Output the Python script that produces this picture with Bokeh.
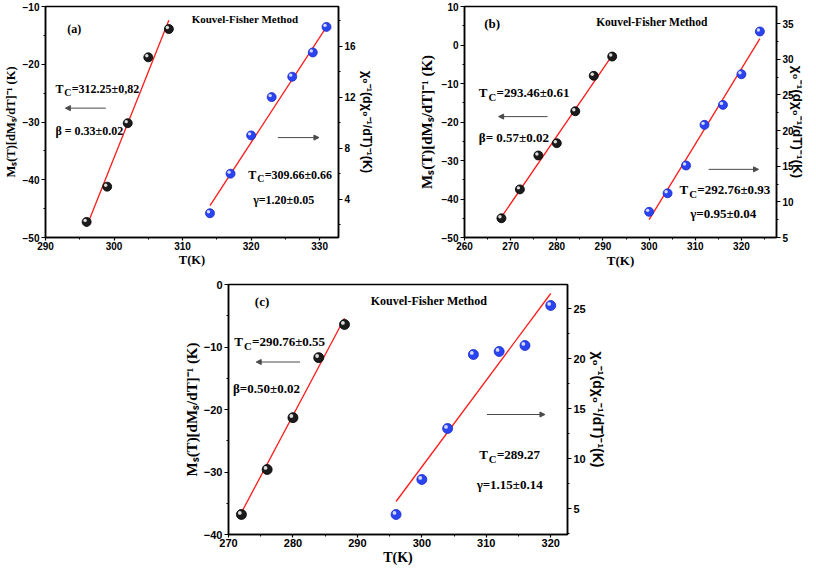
from bokeh.plotting import figure
from bokeh.models import (Range1d, LinearAxis, SingleIntervalTicker, Label, Arrow,
                          NormalHead, Spacer, ColumnDataSource)
from bokeh.layouts import row, column
from bokeh.transform import dodge
from bokeh.embed import file_html
from bokeh.resources import INLINE

# ---------------- data ----------------
# panel (a)
a_ms_T = [296, 299, 302, 305, 308]
a_ms_val = [-47.3, -41.2, -30.2, -18.8, -13.9]
a_chi_T = [314, 317, 320, 323, 326, 329, 331]
a_chi_val = [2.9, 6.0, 9.0, 12.0, 13.6, 15.5, 17.5]
a_ms_fit_T = [296, 308]
a_ms_fit_val = [-48.1, -12.4]
a_chi_fit_T = [314, 331]
a_chi_fit_val = [3.5, 17.5]

# panel (b)
b_ms_T = [268, 272, 276, 280, 284, 288, 292]
b_ms_val = [-45.0, -37.5, -28.7, -25.5, -17.2, -8.0, -3.0]
b_chi_T = [300, 304, 308, 312, 316, 320, 324]
b_chi_val = [8.6, 11.2, 15.1, 20.8, 23.6, 27.9, 33.9]
b_ms_fit_T = [268, 292]
b_ms_fit_val = [-44.7, -2.7]
b_chi_fit_T = [300, 324]
b_chi_fit_val = [7.5, 32.9]

# panel (c)
c_ms_T = [272, 276, 280, 284, 288]
c_ms_val = [-36.8, -29.6, -21.3, -11.7, -6.4]
c_chi_T = [296, 300, 304, 308, 312, 316, 320]
c_chi_val = [4.4, 7.9, 13.0, 20.4, 20.7, 21.3, 25.3]
c_ms_fit_T = [272, 288]
c_ms_fit_val = [-36.5, -5.4]
c_chi_fit_T = [296, 320]
c_chi_fit_val = [5.7, 26.5]

# texts
title_text = "Kouvel-Fisher Method"
x_label = "T(K)"
left_label = "Mₛ(T)[dMₛ/dT]⁻¹ (K)"
right_label = "χ₀⁻¹(dχ₀⁻¹/dT)⁻¹(K)"

SERIF = "Liberation Serif"
SANS = "Liberation Sans"
BLACK_FILL = "#1b1b1b"
BLUE_FILL = "#2a44f2"
RED = "#ff1a1a"
ARROW = "#4a4a4a"


def add_label(p, x, y, text, fs, font=SERIF, align="left", xo=0, yo=0):
    p.add_layout(Label(x=x, y=y, text=text, x_offset=xo, y_offset=yo,
                       text_font=font, text_font_style="bold",
                       text_font_size=f"{fs}px", text_color="black",
                       text_align=align, text_baseline="middle"))


def add_tc(p, x, y, rest, fs):
    add_label(p, x, y, "T", fs)
    add_label(p, x, y, "C", round(fs * 0.82, 1), xo=fs * 0.74, yo=-fs * 0.32)
    add_label(p, x, y, rest, fs, xo=fs * 1.36)


def add_arrow(p, x0, x1, y):
    p.add_layout(Arrow(x_start=x0, y_start=y, x_end=x1, y_end=y,
                       line_color=ARROW, line_width=1,
                       end=NormalHead(size=5, fill_color=ARROW, line_color=ARROW)))


def panel(cfg):
    p = figure(width=cfg["w"], height=cfg["h"], output_backend="svg",
               toolbar_location=None,
               x_range=Range1d(*cfg["xr"]), y_range=Range1d(*cfg["yr"]),
               min_border_left=cfg["mb"][0], min_border_right=cfg["mb"][1],
               min_border_top=cfg["mb"][2], min_border_bottom=cfg["mb"][3])
    p.extra_y_ranges = {"r": Range1d(*cfg["rr"])}
    p.xgrid.visible = False
    p.ygrid.visible = False
    p.outline_line_color = "black"
    p.outline_line_width = 1.5
    p.outline_line_alpha = 1.0
    p.background_fill_color = "white"
    p.border_fill_color = "white"

    p.xaxis.ticker = SingleIntervalTicker(interval=10, num_minor_ticks=2)
    p.yaxis.ticker = SingleIntervalTicker(interval=10, num_minor_ticks=2)
    p.xaxis.axis_label = x_label
    p.yaxis.axis_label = left_label
    ra = LinearAxis(y_range_name="r",
                    ticker=SingleIntervalTicker(interval=cfg["ri"], num_minor_ticks=2),
                    axis_label=right_label)
    p.add_layout(ra, "right")

    for ax in p.axis:
        ax.axis_line_width = 1.5
        ax.axis_line_color = "black"
        ax.major_tick_line_color = "black"
        ax.minor_tick_line_color = "black"
        ax.major_tick_line_width = 1.2
        ax.minor_tick_line_width = 1
        ax.major_tick_out = 4
        ax.major_tick_in = 0
        ax.minor_tick_out = 2
        ax.minor_tick_in = 0
        ax.major_label_text_font = SANS
        ax.major_label_text_font_style = "bold"
        ax.major_label_text_font_size = f"{cfg['tick_fs']}px"
        ax.major_label_text_color = "black"
        ax.major_label_text_line_height = 1.0
        ax.major_label_standoff = 2
        ax.axis_label_standoff = 2
        ax.axis_label_text_line_height = 1.0
        ax.axis_label_text_font_style = "bold"
        ax.axis_label_text_color = "black"
        ax.axis_label_text_font = SERIF
    p.xaxis.major_tick_out = 3
    p.xaxis.major_label_standoff = 1
    p.xaxis.axis_label_standoff = 0
    p.xaxis.axis_label_text_font_size = f"{cfg['xl_fs']}px"
    p.left[0].axis_label_text_font_size = f"{cfg['ll_fs']}px"
    p.left[0].axis_label_standoff = cfg["lls"]
    ra.axis_label_text_font = SANS
    ra.axis_label_text_font_size = f"{cfg['rl_fs']}px"
    ra.axis_label_standoff = cfg["rls"]

    d = cfg["data"]
    # fit lines
    p.line(d["ms_fit_T"], d["ms_fit_val"], line_color=RED, line_width=1.3)
    p.line(d["chi_fit_T"], d["chi_fit_val"], line_color=RED, line_width=1.3,
           y_range_name="r")
    # markers with a small glossy highlight
    ms_src = ColumnDataSource(dict(x=d["ms_T"], y=d["ms_val"]))
    chi_src = ColumnDataSource(dict(x=d["chi_T"], y=d["chi_val"]))
    sz = cfg["msize"]
    p.scatter("x", "y", source=ms_src, size=sz, fill_color=BLACK_FILL,
              line_color="#000000", line_width=0.8)
    p.scatter("x", "y", source=chi_src, size=sz, fill_color=BLUE_FILL,
              line_color="#1a2bc8", line_width=0.8, y_range_name="r")
    hx, hyl, hyr = cfg["hl"]
    p.scatter(dodge("x", hx), dodge("y", hyl), source=ms_src, size=sz * 0.38,
              fill_color="white", fill_alpha=0.85, line_color=None)
    p.scatter(dodge("x", hx), dodge("y", hyr), source=chi_src, size=sz * 0.38,
              fill_color="white", fill_alpha=0.8, line_color=None,
              y_range_name="r")

    a = cfg["ann"]
    fs = cfg["ann_fs"]
    add_label(p, *a["tag"], fs, align="center")
    add_label(p, *a["title"], cfg["title_fs"], align="center")
    add_tc(p, *a["tc1"], fs)
    add_arrow(p, *a["arrow_l"])
    add_label(p, *a["beta"], fs)
    add_arrow(p, *a["arrow_r"])
    add_tc(p, *a["tc2"], fs)
    add_label(p, *a["gamma"], fs)
    return p


cfg_a = dict(
    w=395, h=278, mb=(43, 57, 6, 38), lls=2, rls=1,
    xr=(290, 332.75), yr=(-50, -10), rr=(1, 19.1), ri=4,
    tick_fs=10, xl_fs=12.5, ll_fs=12.5, rl_fs=12.5, ann_fs=12, title_fs=11,
    msize=9, hl=(-0.22, 0.26, 0.12),
    data=dict(ms_T=a_ms_T, ms_val=a_ms_val, chi_T=a_chi_T, chi_val=a_chi_val,
              ms_fit_T=a_ms_fit_T, ms_fit_val=a_ms_fit_val,
              chi_fit_T=a_chi_fit_T, chi_fit_val=a_chi_fit_val),
    ann=dict(tag=(294.2, -13.9, "(a)"), title=(319.1, -12.2, title_text),
             tc1=(291.45, -24.3, "=312.25±0,82"),
             arrow_l=(298.8, 292.9, -27.6),
             beta=(291.45, -31.5, "β = 0.33±0.02"),
             arrow_r=(323.9, 329.9, -32.7),
             tc2=(319.6, -39.1, " =309.66±0.66"),
             gamma=(320.3, -43.5, "γ=1.20±0.05")),
)

cfg_b = dict(
    w=417, h=278, mb=(69, 36, 6, 41), lls=4, rls=-7,
    xr=(260, 327.6), yr=(-50, 10), rr=(5, 37.4), ri=5,
    tick_fs=10, xl_fs=13, ll_fs=15, rl_fs=13.5, ann_fs=13, title_fs=11.5,
    msize=9, hl=(-0.32, 0.39, 0.21),
    data=dict(ms_T=b_ms_T, ms_val=b_ms_val, chi_T=b_chi_T, chi_val=b_chi_val,
              ms_fit_T=b_ms_fit_T, ms_fit_val=b_ms_fit_val,
              chi_fit_T=b_chi_fit_T, chi_fit_val=b_chi_fit_val),
    ann=dict(tag=(266.0, 5.5, "(b)"), title=(300.6, 5.9, title_text),
             tc1=(263.1, -12.3, "=293.46±0.61"),
             arrow_l=(278.0, 267.4, -18.6),
             beta=(263.1, -24.1, "β= 0.57±0.02"),
             arrow_r=(312.9, 323.7, -32.3),
             tc2=(306.6, -37.5, "=292.76±0.93"),
             gamma=(308.9, -43.8, "γ=0.95±0.04")),
)

cfg_c = dict(
    w=452, h=293, mb=(63, 50, 6, 37), lls=1, rls=1,
    xr=(270, 322.6), yr=(-40, 0), rr=(2.4, 27.4), ri=5,
    tick_fs=11, xl_fs=14, ll_fs=15, rl_fs=14, ann_fs=13, title_fs=12,
    msize=10, hl=(-0.25, 0.26, 0.16),
    data=dict(ms_T=c_ms_T, ms_val=c_ms_val, chi_T=c_chi_T, chi_val=c_chi_val,
              ms_fit_T=c_ms_fit_T, ms_fit_val=c_ms_fit_val,
              chi_fit_T=c_chi_fit_T, chi_fit_val=c_chi_fit_val),
    ann=dict(tag=(275.2, -2.7, "(c)"), title=(301.1, -2.6, title_text),
             tc1=(270.9, -9.1, "=290.76±0.55"),
             arrow_l=(281.1, 274.3, -12.4),
             beta=(270.7, -16.7, "β=0.50±0.02"),
             arrow_r=(310.1, 319.1, -20.8),
             tc2=(308.9, -27.2, "=289.27"),
             gamma=(308.5, -32.0, "γ=1.15±0.14")),
)

pa = panel(cfg_a)
pb = panel(cfg_b)
pc = panel(cfg_c)

layout = column(row(pa, pb), row(Spacer(width=165, height=293), pc))

open("out.html", "w").write(file_html(layout, INLINE))
